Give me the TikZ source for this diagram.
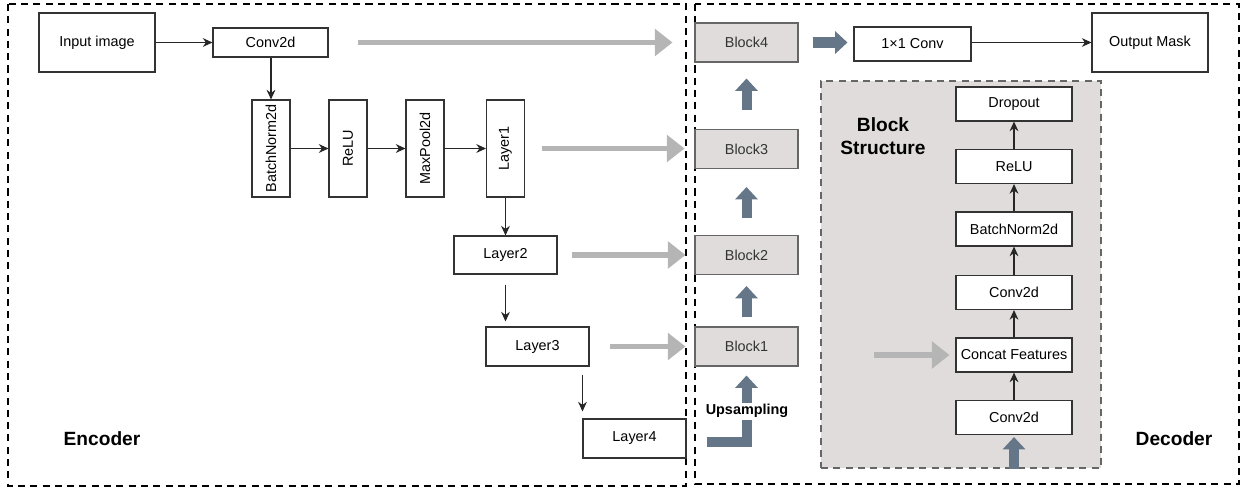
\documentclass[tikz,border=0pt]{standalone}
\usepackage{fontspec}
\setmainfont{Liberation Sans}
\usetikzlibrary{arrows.meta,positioning}

\definecolor{blockfill}{HTML}{E0DCDB}
\definecolor{blockline}{HTML}{666666}
\definecolor{skipgray}{HTML}{B5B5B5}
\definecolor{upblue}{HTML}{647687}

\tikzset{
  box/.style={draw=black!80,line width=0.6pt,fill=white,inner sep=1pt,
    font=\fontsize{8.2}{10}\selectfont},
  block/.style={box,draw=blockline,fill=blockfill,text=black!80,
    minimum width=103*0.02cm,minimum height=39*0.02cm},
  frame/.style={draw=black,line width=1.1pt,dash pattern=on 4pt off 3pt},
  flow/.style={-{Stealth[length=5.5pt,width=5pt]},line width=0.6pt,black!85},
  skip/.style={-{Triangle[length=10pt,width=15pt]},line width=3.4pt,skipgray},
  up/.style={-{Triangle[length=7pt,width=12.5pt]},line width=5.7pt,upblue},
  head/.style={font=\fontsize{10.9}{13}\bfseries\selectfont,align=center}
}

\begin{document}
\begin{tikzpicture}[x=0.02cm,y=-0.02cm]
  \useasboundingbox (0,0) rectangle (1246,490);

  % encoder and decoder frames
  \draw[frame] (8,4) rectangle (686,486);
  \draw[frame] (695,4) rectangle (1239,484);

  % block structure panel (drawn first, below its boxes)
  \node[draw=blockline,fill=blockfill,line width=0.8pt,dash pattern=on 4pt off 3pt,
    minimum width=280*0.02cm,minimum height=387*0.02cm] (bs) at (961,274.5) {};
  \node[head] (bstitle) at (883,136) {Block\\Structure};

  % encoder
  \node[box,minimum width=116*0.02cm,minimum height=59*0.02cm] (inp) at (97,42.5) {Input image};
  \node[box,minimum width=115*0.02cm,minimum height=29*0.02cm] (conv) at (270.5,42.5) {Conv2d};
  \foreach \n/\x/\t in {bn/271/BatchNorm2d, relu/348/ReLU, pool/425/MaxPool2d, lay1/505.5/Layer1} {
    \node[box,minimum width=38*0.02cm,minimum height=97*0.02cm] (\n) at (\x,148.5) {\rotatebox{90}{\t}};
  }
  \node[box,minimum width=103*0.02cm,minimum height=38*0.02cm] (lay2) at (505.5,255) {Layer2};
  \node[box,minimum width=103*0.02cm,minimum height=39*0.02cm] (lay3) at (537.5,346.5) {Layer3};
  \node[box,minimum width=103*0.02cm,minimum height=39*0.02cm] (lay4) at (634.5,438.5) {Layer4};

  \draw[flow] (inp) -- (conv);
  \draw[flow] (conv.south -| bn.north) -- (bn.north);
  \foreach \a/\b in {bn/relu, relu/pool, pool/lay1, lay1/lay2} {
    \draw[flow] (\a) -- (\b);
  }
  \draw[flow,shorten <=0.2cm,shorten >=0.1cm] (lay2.south) -- (lay2.south |- lay3.north);
  \draw[flow,shorten <=0.16cm,shorten >=0.14cm] (lay4.north west |- lay3.south) -- (lay4.north west);

  % decoder blocks
  \foreach \n/\y/\t in {blk4/42.5/Block4, blk3/149/Block3, blk2/255/Block2, blk1/346.5/Block1} {
    \node[block] (\n) at (746.5,\y) {\t};
  }
  \node[box,minimum width=117*0.02cm,minimum height=34*0.02cm] (c1x1) at (912.5,44) {1×1 Conv};
  \node[box,minimum width=116*0.02cm,minimum height=59*0.02cm] (mask) at (1150,42.5) {Output Mask};

  % skip connections
  \draw[skip,shorten <=0.58cm,shorten >=0.44cm] (conv.east) -- (blk4.west);
  \draw[skip,shorten <=0.34cm,shorten >=0.2cm] (lay1.east) -- (lay1.east -| blk3.west);
  \draw[skip,shorten <=0.28cm,shorten >=0.18cm] (lay2.east) -- (blk2.west);
  \draw[skip,shorten <=0.4cm,shorten >=0.18cm] (lay3.east) -- (lay3.east -| blk1.west);

  % upsampling path
  \draw[up,line join=miter,shorten <=0.4cm,shorten >=0.18cm] ([yshift=-3*0.02cm]lay4.east) -| (blk1.south);
  \node[fill=white,inner sep=1pt,font=\fontsize{8.2}{10}\bfseries\selectfont] (upl) at (747,411) {Upsampling};
  \draw[up,shorten <=0.18cm,shorten >=0.22cm] (blk1) -- (blk2);
  \draw[up,shorten <=0.34cm,shorten >=0.36cm] (blk2) -- (blk3);
  \draw[up,shorten <=0.38cm,shorten >=0.32cm] (blk3) -- (blk4);
  \draw[up,shorten <=0.28cm,shorten >=0.12cm] (blk4.east) -- (blk4.east -| c1x1.west);
  \draw[flow] (c1x1.east |- mask.west) -- (mask.west);

  % inside one block
  \foreach \n/\y/\t in {drp/104/Dropout, rld/166.5/ReLU, bnd/229/BatchNorm2d,
                        cva/292.5/Conv2d, cat/355/Concat Features, cvb/417.5/Conv2d} {
    \node[box,minimum width=116*0.02cm,minimum height=34*0.02cm] (\n) at (1014,\y) {\t};
  }
  \foreach \a/\b in {cvb/cat, cat/cva, cva/bnd, bnd/rld, rld/drp} {
    \draw[flow] (\a) -- (\b);
  }
  \coordinate (catin) at (874,355);
  \draw[skip,shorten >=0.12cm] (catin) -- (cat.west);
  \draw[up,shorten >=0.04cm] (bs.south -| cvb.south) -- (cvb.south);

  % labels
  \node[head] (enc) at (102,439) {Encoder};
  \node[head] (dec) at (1174,439) {Decoder};
\end{tikzpicture}
\end{document}
